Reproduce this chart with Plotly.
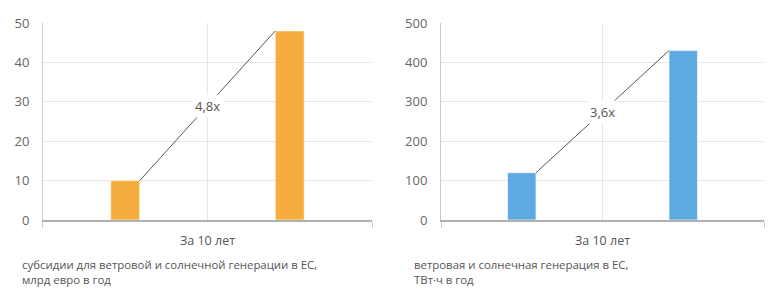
import plotly.graph_objects as go

# ---- data ----
category = "За 10 лет"
subsidies = [10, 48]            # млрд евро в год
generation = [120, 430]         # ТВт·ч в год
ratio_labels = ["4,8x", "3,6x"]
captions = [
    "субсидии для ветровой и солнечной генерации в ЕС,<br>млрд евро в год",
    "ветровая и солнечная генерация в ЕС,<br>ТВт·ч в год",
]
y_max = [50, 500]
y_step = [10, 100]

# ---- style ----
colors = ["#F5AE3E", "#5DAAE0"]
FONT = "Open Sans"
BAR_OFFSET = 0.25
BAR_WIDTH = 0.088
x_domains = [[0.0548, 0.4745], [0.5625, 0.9745]]
y_domain = [0.2763, 0.9243]

fig = go.Figure()
series = [subsidies, generation]
for i, vals in enumerate(series):
    xa = "x" if i == 0 else "x2"
    ya = "y" if i == 0 else "y2"
    xs = [-BAR_OFFSET, BAR_OFFSET]
    fig.add_trace(go.Bar(
        x=xs, y=vals, width=BAR_WIDTH,
        marker=dict(color=colors[i], line=dict(color="rgba(255,255,255,0.6)", width=1)),
        xaxis=xa, yaxis=ya, showlegend=False, hoverinfo="skip",
    ))
    # connector line between bar tops
    x0 = xs[0] + BAR_WIDTH / 2
    x1 = xs[1] - BAR_WIDTH / 2
    fig.add_shape(type="line", xref=xa, yref=ya, x0=x0, y0=vals[0], x1=x1, y1=vals[1],
                  line=dict(color="#555555", width=1))
    fig.add_annotation(xref=xa, yref=ya, x=(x0 + x1) / 2, y=(vals[0] + vals[1]) / 2,
                       text=ratio_labels[i], showarrow=False, bgcolor="white",
                       font=dict(family=FONT, size=13, color="#555555"), borderpad=2)

axis_common_x = dict(
    range=[-0.5, 0.5], tickvals=[0], ticktext=[category],
    showgrid=True, gridcolor="#e6e6e6", gridwidth=1,
    showline=True, linecolor="#b0b0b0", linewidth=2,
    ticks="", zeroline=False, fixedrange=True, automargin=False,
    ticklabelstandoff=8,
    tickfont=dict(family=FONT, size=12.5, color="#555555"),
    minor=dict(tickvals=[-0.5, 0.5], ticks="outside", ticklen=6, tickcolor="#cccccc",
               tickwidth=1, showgrid=True, gridcolor="#eeeeee"),
)
for i in range(2):
    key_x = "xaxis" if i == 0 else "xaxis2"
    key_y = "yaxis" if i == 0 else "yaxis2"
    ax = dict(axis_common_x)
    ax["domain"] = x_domains[i]
    ax["anchor"] = "y" if i == 0 else "y2"
    fig.update_layout({key_x: ax})
    fig.update_layout({key_y: dict(
        domain=y_domain, range=[0, y_max[i]], dtick=y_step[i],
        anchor="x" if i == 0 else "x2",
        showgrid=True, gridcolor="#e6e6e6", gridwidth=1,
        showline=True, linecolor="#cccccc", linewidth=1,
        zeroline=False, ticks="", ticklen=0, automargin=False,
        ticklabelstandoff=10,
        tickfont=dict(family=FONT, size=13, color="#666666"),
        fixedrange=True,
    )})

for i, cap in enumerate(captions):
    fig.add_annotation(xref="paper", yref="paper", x=[0.0255, 0.5255][i], y=0.16,
                       xanchor="left", yanchor="top", align="left", showarrow=False,
                       text=cap, font=dict(family=FONT, size=11.4, color="#555555"))

fig.update_layout(
    width=784, height=304,
    margin=dict(l=0, r=0, t=0, b=0),
    paper_bgcolor="white", plot_bgcolor="white",
    barmode="overlay",
)

fig.write_html("out.html")
